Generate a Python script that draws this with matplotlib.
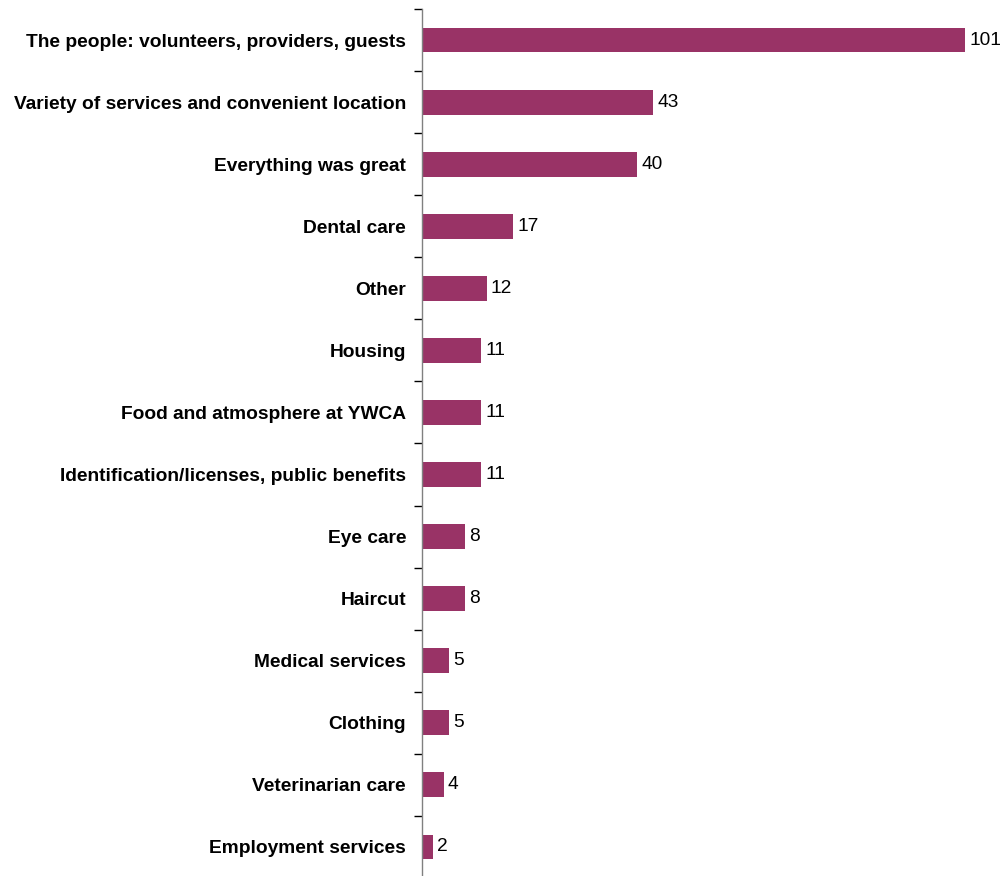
import numpy as np
import matplotlib.pyplot as plt

categories = [
    "The people: volunteers, providers, guests",
    "Variety of services and convenient location",
    "Everything was great",
    "Dental care",
    "Other",
    "Housing",
    "Food and atmosphere at YWCA",
    "Identification/licenses, public benefits",
    "Eye care",
    "Haircut",
    "Medical services",
    "Clothing",
    "Veterinarian care",
    "Employment services",
]
counts = [101, 43, 40, 17, 12, 11, 11, 11, 8, 8, 5, 5, 4, 2]

plt.rcParams['font.family'] = ['Liberation Sans', 'DejaVu Sans']

fig = plt.figure(figsize=(10.08, 8.76), dpi=100)
ax = fig.add_axes([422 / 1008, -2 / 876, 564.5 / 1008, 869 / 876])

y = np.arange(len(categories))
ax.barh(y, counts, height=0.4, color='#993366', zorder=2)

# value labels just right of each bar
for yi, v in zip(y, counts):
    ax.text(v + 0.8, yi, str(v), va='center', ha='left', fontsize=13.8)

ax.set_xlim(0, 105)
ax.set_ylim(len(categories) - 0.5, -0.5)

ax.set_yticks(y)
ax.set_yticklabels(categories, fontsize=13.8, fontweight='bold')
ax.tick_params(axis='y', which='major', length=0, pad=11.5)
# tick marks sit between categories
ax.set_yticks(np.arange(-0.5, len(categories) + 0.5, 1), minor=True)
ax.tick_params(axis='y', which='minor', length=6, width=1, color='black')
ax.set_xticks([])

for side in ['top', 'right', 'bottom']:
    ax.spines[side].set_visible(False)
ax.spines['left'].set_color('#808080')
ax.spines['left'].set_linewidth(1)

fig.savefig('out.png', dpi=100)
